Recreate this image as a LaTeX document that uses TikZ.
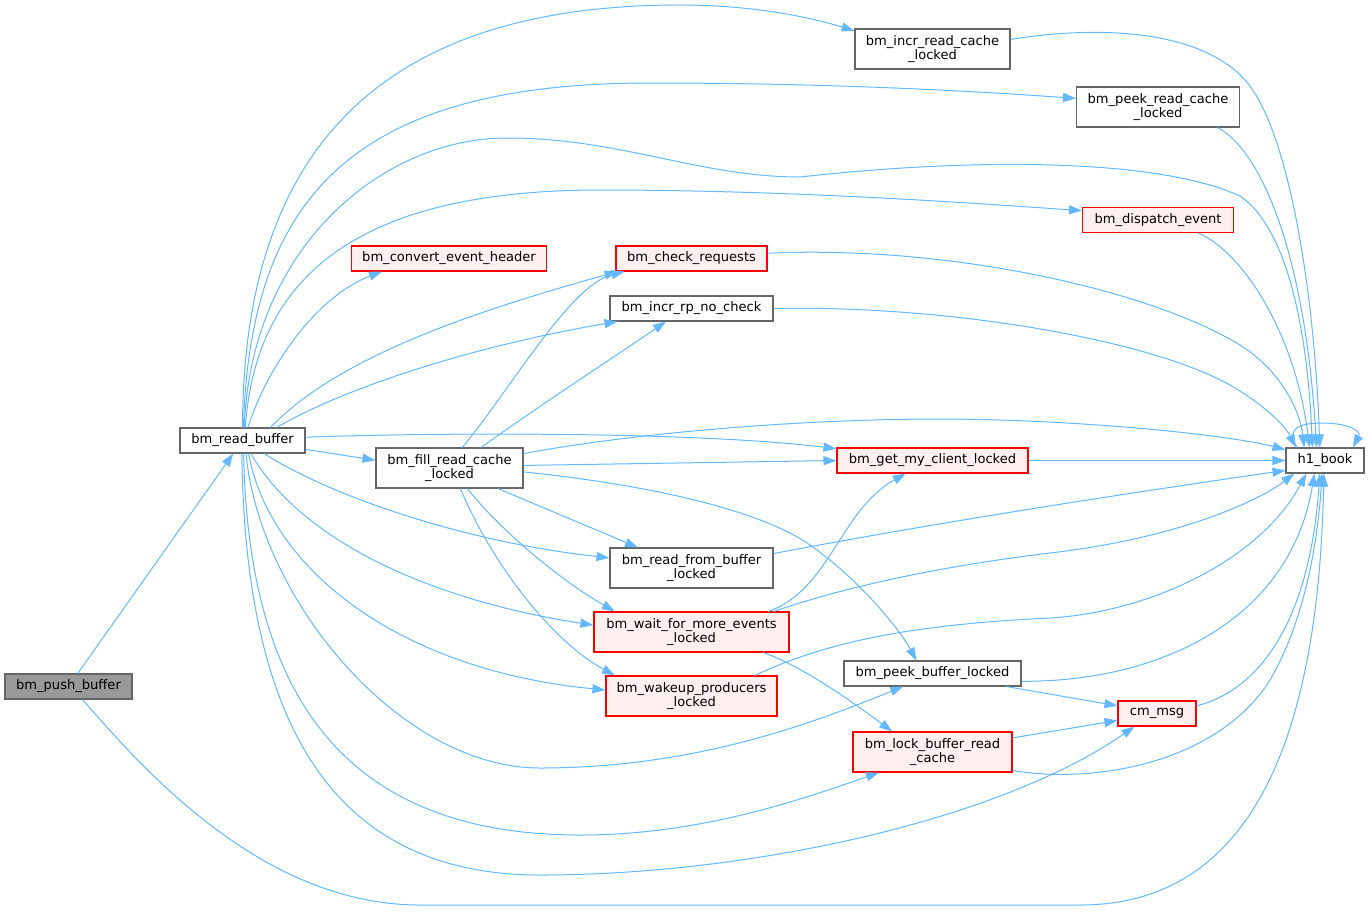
\documentclass[tikz,border=0pt]{standalone}
\usepackage{fontspec}
\setmainfont{DejaVu Sans}
\usepackage{tikz}
\usetikzlibrary{arrows.meta}
\newdimen\px
\px=0.75pt
\definecolor{edgeblue}{HTML}{63B8FF}
\definecolor{redfill}{HTML}{FFF0F0}
\definecolor{boxgray}{HTML}{666666}
\definecolor{rootfill}{HTML}{999999}
\tikzset{
    func/.style={
    rectangle,draw=boxgray,fill=white,line width=0.8pt,inner sep=0pt,align=center,
    minimum height=25*\px,font=\fontsize{9.8}{11}\selectfont
    },
    funcred/.style={
    func,draw=red,fill=redfill
    },
    funcroot/.style={
    func,fill=rootfill
    },
    call/.style={
    draw=edgeblue,line width=0.75pt,-{Triangle[length=9.75pt,width=6.75pt]}
    },
}

\begin{document}
\begin{tikzpicture}[x=0.75pt,y=-0.75pt]
   \useasboundingbox (0,0) rectangle (1369,911);
   \node[funcroot,minimum width=127*\px] (push) at (68.5,686.5) {bm\_push\_buffer};
   \node[func,minimum width=125*\px] (readbuf) at (242.5,440.5) {bm\_read\_buffer};
   \node[func,minimum width=147*\px,minimum height=40*\px] (fillcache) at (449.5,468) {bm\_fill\_read\_cache\\\_locked};
   \node[funcred,minimum width=195*\px] (convhdr) at (449,258.5) {bm\_convert\_event\_header};
   \node[funcred,minimum width=151*\px] (checkreq) at (691.5,258.5) {bm\_check\_requests};
   \node[func,minimum width=163*\px] (incrrp) at (691.5,308.5) {bm\_incr\_rp\_no\_check};
   \node[func,minimum width=163*\px,minimum height=40*\px] (readfrom) at (691.5,568) {bm\_read\_from\_buffer\\\_locked};
   \node[funcred,minimum width=195*\px,minimum height=40*\px] (waitmore) at (691.5,632) {bm\_wait\_for\_more\_events\\\_locked};
   \node[funcred,minimum width=171*\px,minimum height=40*\px] (wakeup) at (691.5,696) {bm\_wakeup\_producers\\\_locked};
   \node[func,minimum width=155*\px,minimum height=40*\px] (incrcache) at (932.5,49) {bm\_incr\_read\_cache\\\_locked};
   \node[funcred,minimum width=191*\px] (getclient) at (932.5,460.5) {bm\_get\_my\_client\_locked};
   \node[func,minimum width=177*\px] (peekbuf) at (932.5,673.5) {bm\_peek\_buffer\_locked};
   \node[funcred,minimum width=159*\px,minimum height=40*\px] (lockbuf) at (932.5,752) {bm\_lock\_buffer\_read\\\_cache};
   \node[func,minimum width=163*\px,minimum height=40*\px] (peekcache) at (1158,107) {bm\_peek\_read\_cache\\\_locked};
   \node[funcred,minimum width=151*\px] (dispatch) at (1158,220) {bm\_dispatch\_event};
   \node[funcred,minimum width=78*\px] (cmmsg) at (1157,713.5) {cm\_msg};
   \node[func,minimum width=78*\px] (hbook) at (1325,460.5) {h1\_book};

   \draw[call] (push) -- (readbuf);
   \draw[call] (push.-43) .. controls (140,765) and (260,905) .. (420,905) -- (1080,905) .. controls (1240,905) and (1318,760) .. (hbook.-95);

   \draw[call] (readbuf.90) .. controls (243,150) and (380,5) .. (680,5) .. controls (760,5) and (820,20) .. (incrcache.167);
   \draw[call] (readbuf.86) .. controls (250,200) and (350,83) .. (650,83) .. controls (850,83) and (1000,93) .. (peekcache.174);
   \draw[call] (readbuf.82) .. controls (250,250) and (380,138) .. (507,138) .. controls (620,138) and (700,177) .. (800,177) .. controls (950,160) and (1150,155) .. (1240,196) .. controls (1290,230) and (1308,340) .. (hbook.134);
   \draw[call] (readbuf.78) .. controls (255,290) and (340,190) .. (600,190) .. controls (800,190) and (1000,205) .. (dispatch.173);
   \draw[call] (readbuf.68) .. controls (270,360) and (320,295) .. (convhdr.-169);
   \draw[call] (readbuf.25) .. controls (340,355) and (480,310) .. (checkreq.-170);
   \draw[call] (readbuf.21) .. controls (350,385) and (480,345) .. (incrrp.-170);
   \draw[call] (readbuf.3) .. controls (450,432) and (700,432) .. (getclient.173);
   \draw[call] (readbuf.-8) -- (fillcache.174);
   \draw[call] (readbuf.-31) .. controls (320,490) and (450,540) .. (readfrom.173);
   \draw[call] (readbuf.-57) .. controls (300,540) and (430,600) .. (waitmore.176);
   \draw[call] (readbuf.-65) .. controls (270,570) and (400,670) .. (wakeup.176);
   \draw[call] (readbuf.-75) .. controls (260,600) and (400,768) .. (540,768) .. controls (700,768) and (820,720) .. (peekbuf.-156);
   \draw[call] (readbuf.-85) .. controls (248,690) and (340,835) .. (580,835) .. controls (700,835) and (800,800) .. (lockbuf.-159);
   \draw[call] (readbuf.-93) .. controls (245,720) and (330,875) .. (540,875) .. controls (750,875) and (1000,820) .. (cmmsg.-150);

   \draw[call] (fillcache.58) .. controls (510,390) and (570,285) .. (checkreq.-169);
   \draw[call] (fillcache.33) .. controls (540,405) and (610,360) .. (incrrp.-153);
   \draw[call] (fillcache.11) .. controls (650,430) and (850,415) .. (1000,420) .. controls (1150,425) and (1250,440) .. (hbook.165);
   \draw[call] (fillcache.2) -- (getclient.west);
   \draw[call] (fillcache.-3) .. controls (650,485) and (760,510) .. (810,545) .. controls (860,580) and (900,630) .. (peekbuf.141);
   \draw[call] (fillcache.-23) -- (readfrom.159);
   \draw[call] (fillcache.-49) .. controls (500,530) and (560,580) .. (waitmore.165);
   \draw[call] (fillcache.-62) .. controls (490,560) and (550,640) .. (wakeup.165);

   \draw[call] (checkreq.4) .. controls (950,245) and (1150,290) .. (1240,345) .. controls (1280,370) and (1300,410) .. (hbook.148);
   \draw[call] (incrrp.east) .. controls (950,305) and (1150,340) .. (1230,385) .. controls (1260,402) and (1285,425) .. (hbook.156);
   \draw[call] (waitmore.15) .. controls (830,590) and (840,510) .. (getclient.-154);
   \draw[call] (waitmore.14) .. controls (850,585) and (950,565) .. (1050,553) .. controls (1180,538) and (1260,500) .. (hbook.-157);
   \draw[call] (waitmore.-16) .. controls (800,665) and (850,700) .. (lockbuf.153);
   \draw[call] (readfrom.10) .. controls (950,520) and (1150,490) .. (hbook.-166);
   \draw[call] (wakeup.18) .. controls (820,645) and (900,625) .. (1050,618) .. controls (1150,612) and (1260,560) .. (hbook.-145);

   \draw[call] (getclient.east) -- (hbook.west);
   \draw[call] (peekbuf.-10) -- (cmmsg.169);
   \draw[call] (peekbuf.-5) .. controls (1160,682) and (1290,620) .. (hbook.-129);
   \draw[call] (lockbuf.10) -- (cmmsg.-170);
   \draw[call] (lockbuf.-13) .. controls (1100,785) and (1220,760) .. (1270,680) .. controls (1305,620) and (1318,540) .. (hbook.-103);
   \draw[call] (cmmsg.11) .. controls (1260,690) and (1310,620) .. (hbook.-112);

   \draw[call] (incrcache.7) .. controls (1100,25) and (1200,30) .. (1245,80) .. controls (1290,130) and (1315,300) .. (hbook.112);
   \draw[call] (peekcache.-19) .. controls (1260,150) and (1305,250) .. (hbook.123);
   \draw[call] (dispatch.-18) .. controls (1240,250) and (1295,330) .. (hbook.140);
   \draw[call] (hbook.155) .. controls (1285,428) and (1300,423) .. (1323,423) .. controls (1345,423) and (1362,430) .. (hbook.25);
\end{tikzpicture}
\end{document}
